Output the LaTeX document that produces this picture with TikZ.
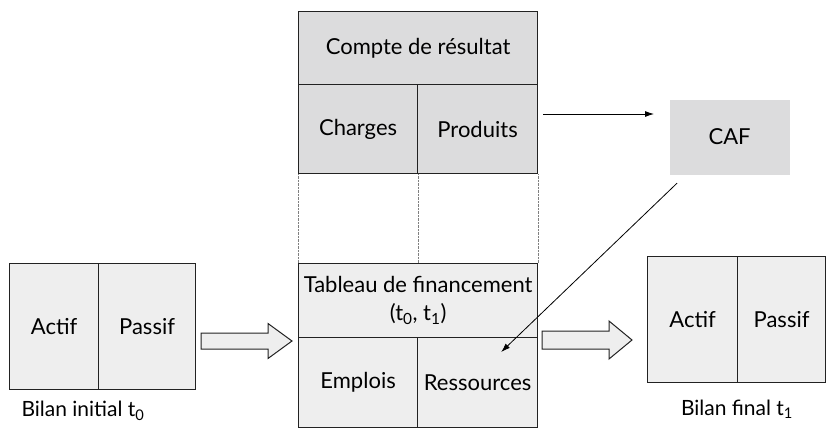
\documentclass[tikz,border=0pt]{standalone}
\usepackage{fontspec}
\setmainfont{Lato}
\usetikzlibrary{calc,arrows.meta}

\definecolor{darkcell}{HTML}{DCDCDD}
\definecolor{lightcell}{HTML}{EEEEEE}
\definecolor{edgegray}{HTML}{222222}

\tikzset{
  cell/.style={draw=edgegray, line width=1.2pt, anchor=north west, inner sep=0pt,
               font=\fontsize{22pt}{26pt}\selectfont, text=black},
  dark/.style={cell, fill=darkcell},
  light/.style={cell, fill=lightcell},
  harrow/.style={draw=edgegray, line width=1pt, fill=lightcell},
  link/.style={line width=0.8pt, -{Latex[length=9pt,width=6pt]}},
  caption/.style={font=\fontsize{21pt}{25pt}\selectfont}
}

% hollow block arrow: start, end, shaft half width, head half width, head length
\newcommand{\hollowarrow}[5]{%
  \draw[harrow] ($(#1)+(0,-#3)$) -- ($(#2)+(-#5,-#3)$) -- ($(#2)+(-#5,-#4)$)
    -- (#2) -- ($(#2)+(-#5,#4)$) -- ($(#2)+(-#5,#3)$) -- ($(#1)+(0,#3)$) -- cycle;}

\begin{document}
\begin{tikzpicture}[x=1pt, y=-1pt]
    \useasboundingbox (0,0) rectangle (826,428);

    % Compte de resultat
    \node[dark, minimum width=239pt, minimum height=73pt] (compte) at (298,11) {Compte de résultat};
    \node[dark, minimum width=119pt, minimum height=89pt] (charges) at (298,84) {Charges};
    \node[dark, minimum width=120pt, minimum height=89pt] (produits) at (417,84) {Produits};

    % Tableau de financement
    \node[light, minimum width=239pt, minimum height=74pt, align=center] (tableau) at (298,263)
         {Tableau de financement\\[2pt](t\textsubscript{0}, t\textsubscript{1})};
    \node[light, minimum width=119pt, minimum height=90pt] (emplois) at (298,337) {Emplois};
    \node[light, minimum width=120pt, minimum height=90pt] (ressources) at (417,337) {Ressources};

    % Dotted links
    \draw[gray, densely dotted] (charges.south west) -- (tableau.north west);
    \draw[gray, densely dotted] (charges.south east) -- (tableau.north -| charges.south east);
    \draw[gray, densely dotted] (produits.south east) -- (tableau.north east);

    % Bilan initial
    \node[light, minimum width=89pt, minimum height=126pt] (actif0) at (9,263) {Actif};
    \node[light, minimum width=97pt, minimum height=126pt] (passif0) at (98,263) {Passif};
    \node[caption] (bilan0) at (83,411) {Bilan initial t\textsubscript{0}};

    % Bilan final
    \node[light, minimum width=90pt, minimum height=126pt] (actif1) at (647,256) {Actif};
    \node[light, minimum width=88pt, minimum height=126pt] (passif1) at (737,256) {Passif};
    \node[caption] (bilan1) at (737,409) {Bilan final t\textsubscript{1}};

    % CAF
    \node[dark, draw=none, minimum width=120pt, minimum height=75pt] (caf) at (669,99) {CAF};

    % Edges
    \coordinate (prodout) at ($(produits.east |- 0,114)+(5,0)$);
    \coordinate (cafleft) at ($(caf.west |- 0,114)+(-15,0)$);
    \coordinate (cafout) at ($(caf.south west)+(8,8)$);
    \coordinate (cafin) at ($(ressources.north east)+(-37,15)$);
    \draw[link] (prodout) -- (cafleft);
    \draw[link] (cafout) -- (cafin);

    % Hollow arrows
    \coordinate (h0s) at (201,341);
    \coordinate (h0e) at (292,341);
    \coordinate (h1s) at (542,340);
    \coordinate (h1e) at (632,340);
    \hollowarrow{h0s}{h0e}{8}{17.5}{24}
    \hollowarrow{h1s}{h1e}{9}{19}{23}
\end{tikzpicture}
\end{document}
